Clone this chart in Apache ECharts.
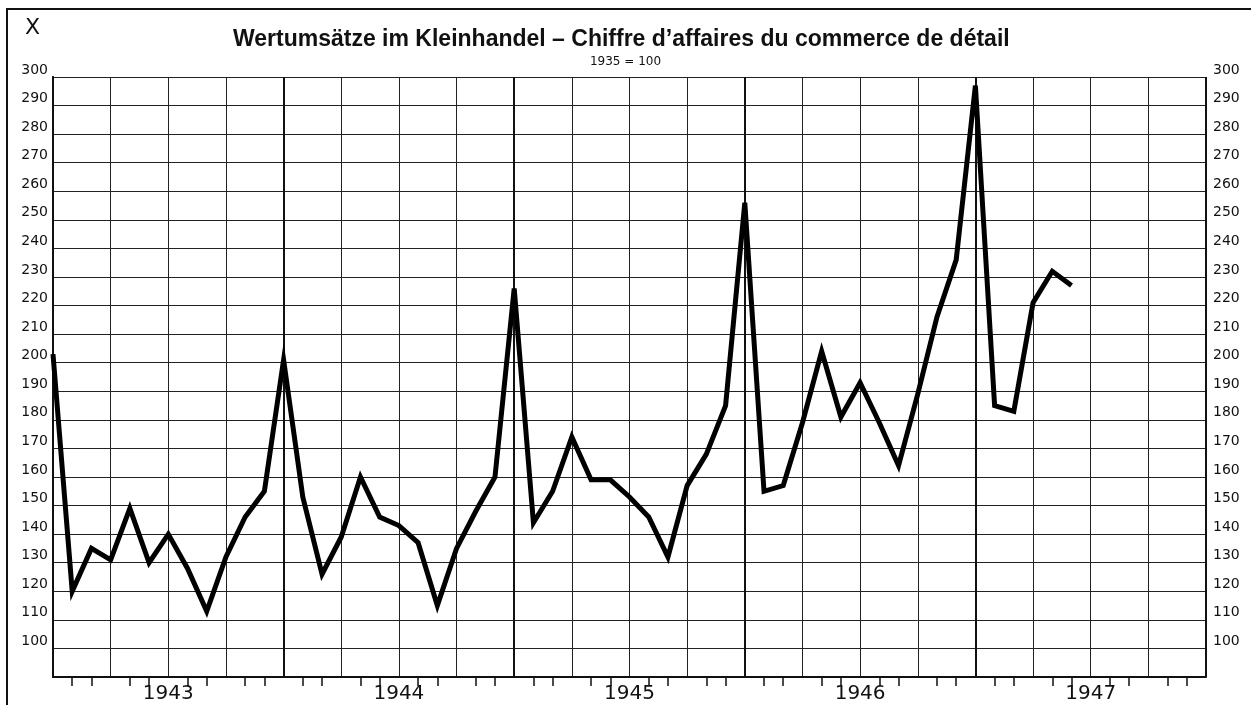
<!DOCTYPE html>
<html>
<head>
<meta charset="utf-8">
<script src="https://cdn.jsdelivr.net/npm/echarts@6/dist/echarts.min.js"></script>
<style>
html, body { margin: 0; padding: 0; background: #fff; }
#main { width: 1251px; height: 705px; }
</style>
</head>
<body>
<div id="main"></div>
<script>
// monthly index, Dec 1942 = 0
var values = [203, 120, 135, 131, 149, 130, 140, 128, 113, 132, 146, 155,
	201, 153, 126, 139, 160, 146, 143, 137, 115, 135, 148, 160,
	226, 144, 155, 174, 159, 159, 153, 146, 132, 157, 168, 185,
	256, 155, 157, 179, 204, 181, 193, 179, 164, 189, 216, 236,
	297, 185, 183, 221, 232, 227];
var yearLabels = ['1943', '1944', '1945', '1946', '1947'];
var titleText = 'Wertumsätze im Kleinhandel – Chiffre d\u2019affaires du commerce de détail';
var subText = '1935 = 100';

var points = values.map(function(v, i) { return [i, v]; });

var dom = document.getElementById('main');
var myChart = echarts.init(dom);

var numFont = '"DejaVu Sans", sans-serif';

myChart.setOption({
	animation: false,
	backgroundColor: '#fff',
	title: [{
		text: titleText,
		left: 228,
		top: 23,
		textStyle: { fontFamily: '"Liberation Sans", Arial, sans-serif', fontSize: 23, fontWeight: 'bold', color: '#111' }
	}, {
		text: subText,
		left: 'center',
		top: 51,
		textStyle: { fontFamily: numFont, fontSize: 12, fontWeight: 'normal', color: '#111' }
	}, {
		text: 'X',
		left: 20,
		top: 12,
		textStyle: { fontFamily: numFont, fontSize: 22, fontWeight: 'normal', color: '#111' }
	}],
	graphic: [{
		type: 'rect',
		shape: { x: 7, y: 9, width: 1260, height: 720 },
		style: { fill: null, stroke: '#111', lineWidth: 2 },
		silent: true
	}],
	grid: { left: 53, right: 45, top: 77, bottom: 28 },
	xAxis: [{
		type: 'value',
		min: 0,
		max: 60,
		interval: 3,
		axisLine: { show: true, lineStyle: { color: '#111', width: 2 } },
		axisTick: { show: false },
		minorTick: { show: true, splitNumber: 3, length: 9, lineStyle: { color: '#111', width: 1.5 } },
		axisLabel: {
			margin: 7,
			fontFamily: numFont,
			fontSize: 20,
			color: '#111',
			formatter: function(v) {
				if ((v - 6) % 12 === 0) return yearLabels[(v - 6) / 12] || '';
				return '';
			}
		},
		splitLine: { show: true, lineStyle: { color: '#222', width: 1 } }
	}, {
		type: 'value',
		position: 'top',
		min: 0,
		max: 60,
		interval: 12,
		axisLine: { show: false },
		axisTick: { show: false },
		axisLabel: { show: false },
		splitLine: { show: true, lineStyle: { color: '#111', width: 2 } }
	}],
	yAxis: [{
		type: 'value',
		position: 'left',
		min: 90,
		max: 300,
		interval: 10,
		axisLine: { show: true, lineStyle: { color: '#111', width: 2 } },
		axisTick: { show: false },
		axisLabel: {
			margin: 5,
			fontFamily: numFont,
			fontSize: 14,
			color: '#111',
			verticalAlign: 'bottom',
			formatter: function(v) { return v < 100 ? '' : v; }
		},
		splitLine: { show: true, lineStyle: { color: '#222', width: 1 } }
	}, {
		type: 'value',
		position: 'right',
		min: 90,
		max: 300,
		interval: 10,
		axisLine: { show: true, lineStyle: { color: '#111', width: 2 } },
		axisTick: { show: false },
		axisLabel: {
			margin: 7,
			fontFamily: numFont,
			fontSize: 14,
			color: '#111',
			verticalAlign: 'bottom',
			formatter: function(v) { return v < 100 ? '' : v; }
		},
		splitLine: { show: false }
	}],
	series: [{
		type: 'line',
		xAxisIndex: 0,
		yAxisIndex: 0,
		data: points,
		symbol: 'none',
		lineStyle: { color: '#000', width: 5, join: 'miter', miterLimit: 8 },
		z: 5
	}]
});
</script>
</body>
</html>
